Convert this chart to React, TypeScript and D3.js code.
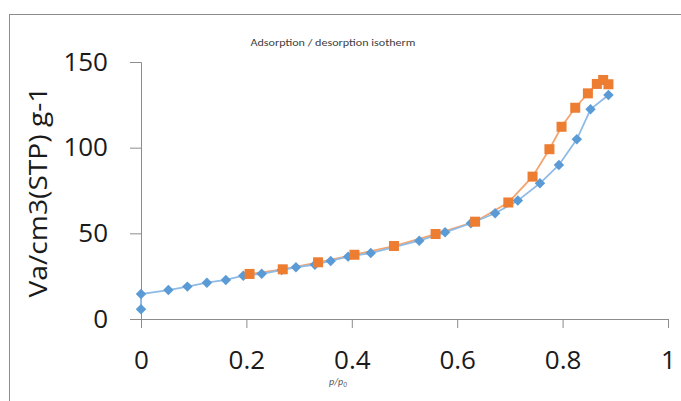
import { useEffect, useRef } from "react"
import * as d3 from "d3"

// adsorption branch (blue diamonds)
const adsX = [0, 0, 0.052, 0.088, 0.125, 0.161, 0.194, 0.229, 0.267, 0.294, 0.33, 0.36, 0.393, 0.436, 0.528, 0.577, 0.626, 0.672, 0.715, 0.757, 0.793, 0.827, 0.853, 0.887]
const adsY = [5.7, 14.6, 16.9, 18.9, 21.2, 22.8, 25.3, 26.4, 28.6, 30.2, 31.7, 33.9, 36.4, 38.5, 45.7, 50.6, 55.9, 61.7, 69.1, 79.2, 89.9, 104.9, 122.4, 130.7]

// desorption branch (orange squares)
const desX = [0.206, 0.269, 0.336, 0.405, 0.48, 0.559, 0.634, 0.697, 0.743, 0.775, 0.798, 0.824, 0.848, 0.865, 0.877, 0.887]
const desY = [26.3, 29.0, 33.1, 37.5, 42.6, 49.6, 56.8, 68.0, 83.1, 99.1, 112.2, 123.3, 131.7, 137.2, 139.5, 137.0]

const xTicks = [0, 0.2, 0.4, 0.6, 0.8, 1]
const yTicks = [0, 50, 100, 150]

export default function App() {
  const svgRef = useRef<SVGSVGElement>(null)

  useEffect(() => {
    if (!svgRef.current) return
    const svg = d3.select(svgRef.current)
    svg.selectAll("*").remove()

    const width = 681
    const height = 401
    const left = 141
    const right = 668
    const top = 62
    const bottom = 319
    const font = "'Open Sans', 'Liberation Sans', sans-serif"

    svg.append("rect").attr("width", width).attr("height", height).attr("fill", "white")

    // outer frame
    svg.append("line").attr("x1", 9.5).attr("x2", 9.5).attr("y1", 14.5).attr("y2", height).attr("stroke", "#8c8c8c")
    svg.append("line").attr("x1", 9).attr("x2", width).attr("y1", 14.5).attr("y2", 14.5).attr("stroke", "#8c8c8c")

    const x = d3.scaleLinear().domain([0, 1]).range([left, right])
    const y = d3.scaleLinear().domain([0, 150]).range([bottom, top])

    // title
    svg.append("text")
      .attr("x", 333).attr("y", 46)
      .attr("text-anchor", "middle")
      .attr("font-family", "Carlito, Lato, sans-serif")
      .attr("font-size", 11)
      .attr("fill", "#404040")
      .attr("textLength", 165)
      .attr("lengthAdjust", "spacingAndGlyphs")
      .text("Adsorption / desorption isotherm")

    // y axis
    const yAxis = svg.append("g").attr("transform", `translate(${left},0)`)
      .call(d3.axisLeft(y).tickValues(yTicks).tickSize(11).tickPadding(22).tickFormat(d3.format("d")))
    yAxis.select(".domain").attr("stroke", "#8c8c8c").attr("d", `M-11,${top + 0.5}H0.5V${bottom + 0.5}`)
    yAxis.selectAll(".tick line").attr("stroke", "#8c8c8c")
    yAxis.selectAll(".tick text").attr("font-size", 26).attr("font-family", font).attr("fill", "#1a1a1a")

    // x axis
    const xAxis = svg.append("g").attr("transform", `translate(0,${bottom})`)
      .call(d3.axisBottom(x).tickValues(xTicks).tickSize(9).tickFormat((d) => d3.format("")(d as number)))
    xAxis.select(".domain").attr("stroke", "#8c8c8c").attr("d", `M${left + 0.5},9V0.5H${right + 0.5}V9`)
    xAxis.selectAll(".tick line").attr("stroke", "#8c8c8c")
    xAxis.selectAll(".tick text").attr("y", 50).attr("dy", 0).attr("font-size", 26).attr("font-family", font).attr("fill", "#1a1a1a")

    // axis titles
    svg.append("text")
      .attr("transform", `translate(47,192) rotate(-90)`)
      .attr("text-anchor", "middle")
      .attr("font-family", font)
      .attr("font-size", 25)
      .attr("fill", "#1a1a1a")
      .attr("textLength", 211)
      .attr("lengthAdjust", "spacingAndGlyphs")
      .text("Va/cm3(STP) g-1")

    const xt = svg.append("text")
      .attr("x", 329).attr("y", 385)
      .attr("font-family", "Carlito, Lato, sans-serif")
      .attr("font-size", 10)
      .attr("font-style", "italic")
      .attr("fill", "#555")
    xt.append("tspan").text("p/p")
    xt.append("tspan").attr("font-size", 7).attr("dy", 2).text("0")

    const ads = adsX.map((v, i) => [v, adsY[i]] as [number, number])
    const des = desX.map((v, i) => [v, desY[i]] as [number, number])
    const line = d3.line<[number, number]>().x((d) => x(d[0])).y((d) => y(d[1]))

    svg.append("path").attr("d", line(des)).attr("fill", "none").attr("stroke", "#f4a46f").attr("stroke-width", 1.8)
    svg.append("path").attr("d", line(ads)).attr("fill", "none").attr("stroke", "#8fbbe6").attr("stroke-width", 1.8)

    const diamond = d3.symbol().type(d3.symbolDiamond2).size(70)
    svg.append("g").selectAll("path").data(ads).join("path")
      .attr("transform", (d) => `translate(${x(d[0])},${y(d[1])})`)
      .attr("d", diamond)
      .attr("fill", "#5b9bd5")

    svg.append("g").selectAll("rect").data(des).join("rect")
      .attr("x", (d) => x(d[0]) - 5)
      .attr("y", (d) => y(d[1]) - 5)
      .attr("width", 10)
      .attr("height", 10)
      .attr("fill", "#ed7d31")
  }, [])

  return (
    <svg
      ref={svgRef}
      width={681}
      height={401}
      style={{ position: "absolute", left: 0, top: 0 }}
    ></svg>
  )
}
